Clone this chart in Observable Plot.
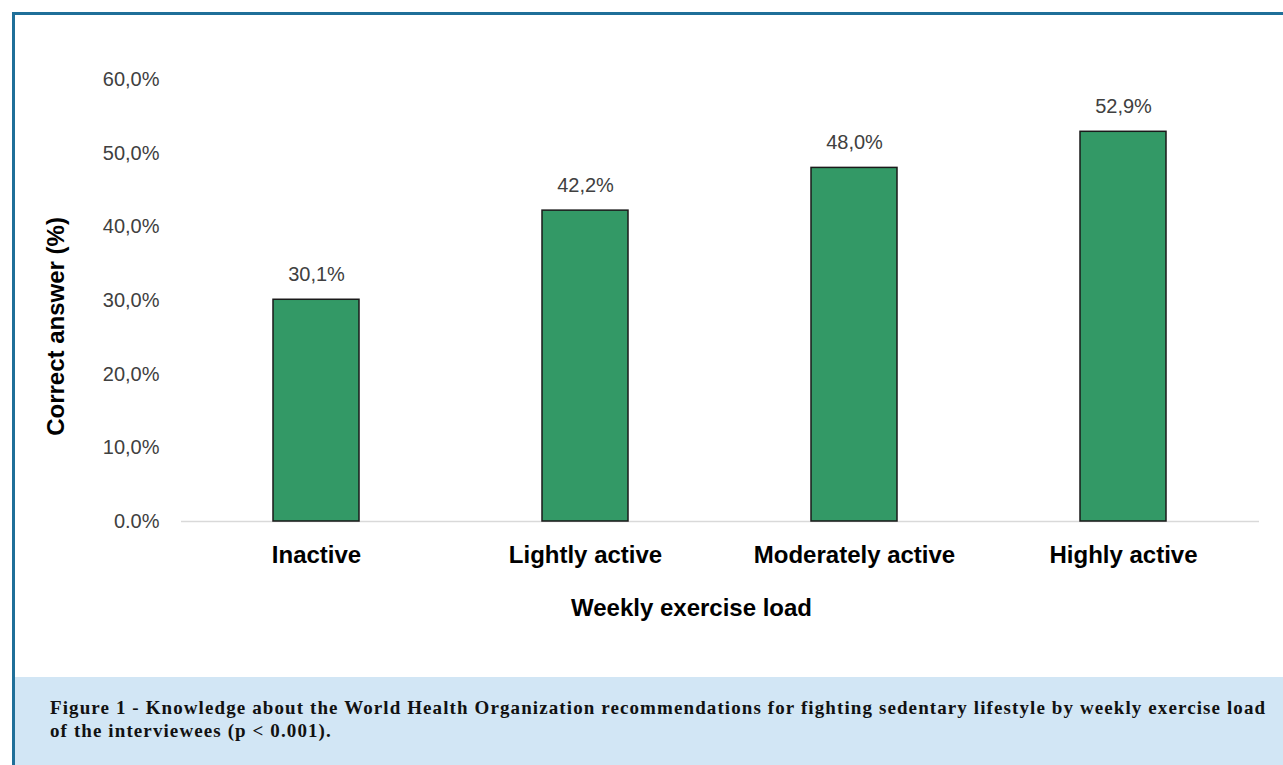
<!DOCTYPE html>
<html><head><meta charset="utf-8">
<script src="https://cdn.jsdelivr.net/npm/d3@7"></script>
<script src="https://cdn.jsdelivr.net/npm/@observablehq/plot@0.6"></script>
<style>
html,body{margin:0;padding:0;background:#fff}
body{width:1283px;height:765px;overflow:hidden;position:relative;font-family:"Liberation Sans",Arial,sans-serif}
#frame{position:absolute;left:12px;top:12px;right:0;bottom:0;border-top:3px solid #1f6f99;border-left:3px solid #1f6f99;pointer-events:none}
#chart{position:absolute;left:0;top:0}
#caption{position:absolute;left:15px;top:677px;right:0;bottom:0;background:#d2e6f5;box-sizing:border-box;padding:19px 0 0 35px;font-family:"Liberation Serif","Times New Roman",serif;font-weight:bold;font-size:19px;line-height:23px;letter-spacing:1.1px;color:#111;white-space:nowrap}
</style></head>
<body>
<div id="chart"></div>
<div id="caption"></div>
<div id="frame"></div>
<script>
const categories = ["Inactive", "Lightly active", "Moderately active", "Highly active"];
const values = [30.1, 42.2, 48.0, 52.9];
const valueLabels = ["30,1%", "42,2%", "48,0%", "52,9%"];
const yTicks = [0, 10, 20, 30, 40, 50, 60];
const yTickLabels = ["0.0%", "10,0%", "20,0%", "30,0%", "40,0%", "50,0%", "60,0%"];
const yTitle = "Correct answer (%)";
const xTitle = "Weekly exercise load";
const captionLines = [
  "Figure 1 - Knowledge about the World Health Organization recommendations for fighting sedentary lifestyle by weekly exercise load",
  "of the interviewees (p < 0.001)."
];

const data = categories.map((c, i) => ({category: c, value: values[i], label: valueLabels[i]}));
const font = '"Liberation Sans", Arial, sans-serif';

const chart = Plot.plot({
  width: 1283, height: 677,
  marginTop: 79, marginBottom: 156, marginLeft: 181, marginRight: 24,
  style: {fontFamily: font, background: "transparent"},
  x: {domain: categories, paddingInner: 0.68, paddingOuter: 0.34, label: null},
  y: {domain: [0, 60], label: null},
  marks: [
    Plot.ruleY([0], {stroke: "#d9d9d9", strokeWidth: 1.5}),
    Plot.barY(data, {x: "category", y: "value", fill: "#339966", stroke: "#1a1a1a", strokeWidth: 1.5}),
    Plot.text(data, {x: "category", y: "value", text: "label", lineAnchor: "bottom", dy: -19, fontSize: 20, fill: "#404040"}),
    Plot.axisY({ticks: yTicks, tickFormat: d => yTickLabels[yTicks.indexOf(d)], tickSize: 0, tickPadding: 22, fontSize: 20, fill: "#404040", label: null}),
    Plot.axisX({tickSize: 0, tickPadding: 24, fontSize: 24, fontWeight: "bold", fill: "#000", label: null}),
    Plot.text([xTitle], {text: d => d, frameAnchor: "bottom", dx: -29, dy: 94, fontSize: 24, fontWeight: "bold", fill: "#000"}),
    Plot.text([yTitle], {text: d => d, frameAnchor: "left", textAnchor: "middle", rotate: -90, dx: -125, dy: 26, fontSize: 24, fontWeight: "bold", fill: "#000"})
  ]
});
document.getElementById("chart").appendChild(chart);
const cap = document.getElementById("caption");
captionLines.forEach((t, i) => { if (i) cap.appendChild(document.createElement("br")); cap.appendChild(document.createTextNode(t)); });
</script>
</body></html>
